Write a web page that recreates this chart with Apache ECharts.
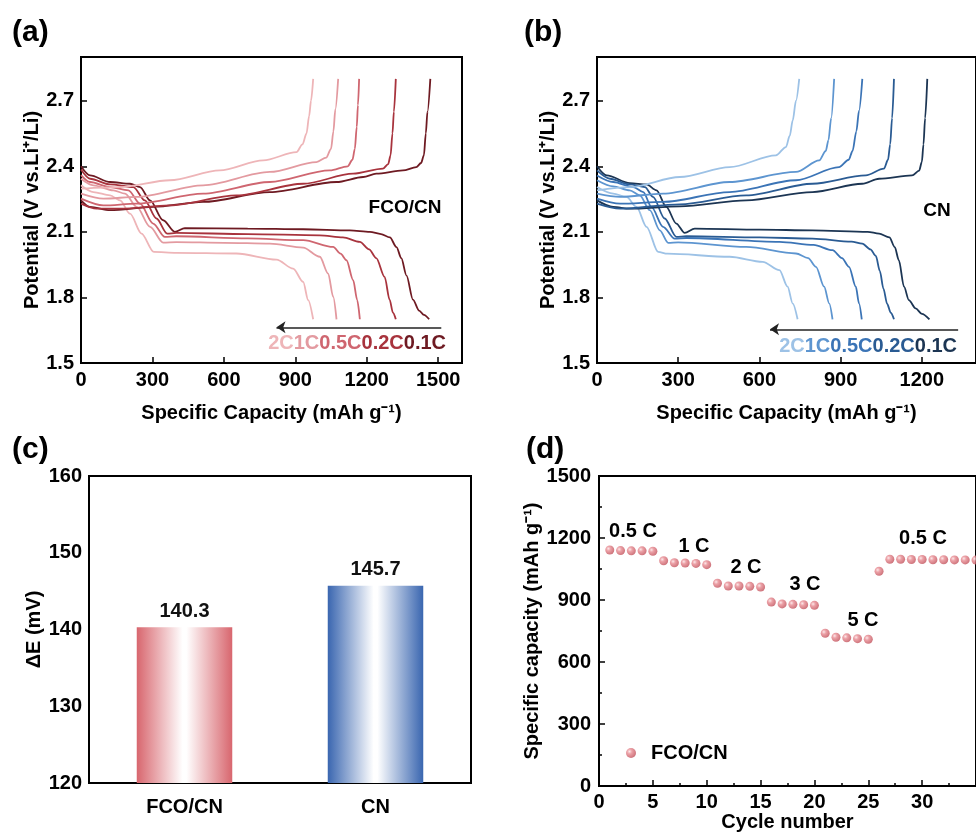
<!DOCTYPE html>
<html>
<head>
<meta charset="utf-8">
<script src="https://cdn.jsdelivr.net/npm/echarts@6/dist/echarts.min.js"></script>
<style>
  html, body { margin: 0; padding: 0; background: #fff; }
  #chart { width: 976px; height: 834px; }
</style>
</head>
<body>
<div id="chart"></div>
<script>
const FONT = '"Liberation Sans", Arial, sans-serif';

// (a) FCO/CN  [capacity mAh/g, potential V]
const fcoDis01 = [[0,2.40],[38,2.358],[122,2.328],[206,2.32],[248,2.305],[290,2.244],[345,2.153],[394,2.10],[436,2.117],[700,2.115],[933,2.112],[1129,2.107],[1213,2.10],[1260,2.09],[1297,2.075],[1325,2.03],[1345,1.98],[1367,1.90],[1394,1.79],[1420,1.74],[1440,1.72],[1462,1.70]];
const fcoDis02 = [[0,2.385],[38,2.343],[122,2.317],[220,2.305],[268,2.244],[317,2.161],[362,2.092],[400,2.095],[700,2.09],[1003,2.084],[1100,2.075],[1171,2.054],[1210,2.02],[1240,1.98],[1275,1.894],[1296,1.79],[1310,1.73],[1322,1.70]];
const fcoDis05 = [[0,2.36],[38,2.328],[122,2.305],[199,2.29],[248,2.229],[303,2.138],[352,2.077],[400,2.08],[700,2.07],[933,2.062],[1059,2.031],[1090,2.0],[1115,1.97],[1143,1.879],[1160,1.788],[1171,1.70]];
const fcoDis1 = [[0,2.343],[52,2.313],[136,2.29],[185,2.275],[234,2.214],[290,2.123],[345,2.051],[400,2.053],[600,2.05],[793,2.046],[933,2.028],[1003,1.986],[1038,1.909],[1059,1.803],[1073,1.70]];
const fcoDis2 = [[0,2.313],[52,2.282],[122,2.267],[164,2.244],[206,2.183],[254,2.092],[306,2.008],[400,2.004],[653,2.001],[821,1.973],[891,1.932],[933,1.871],[954,1.788],[975,1.70]];
const fcoChg01 = [[0,2.244],[38,2.214],[122,2.199],[303,2.214],[513,2.237],[793,2.282],[1073,2.328],[1185,2.351],[1240,2.366],[1352,2.381],[1408,2.396],[1428,2.415],[1440,2.45],[1448,2.55],[1455,2.65],[1467,2.80]];
const fcoChg02 = [[0,2.229],[66,2.206],[164,2.206],[373,2.221],[653,2.267],[933,2.32],[1143,2.366],[1268,2.389],[1290,2.41],[1300,2.45],[1308,2.55],[1314,2.65],[1322,2.80]];
const fcoChg05 = [[0,2.252],[94,2.221],[234,2.229],[513,2.275],[793,2.328],[1045,2.381],[1120,2.40],[1140,2.43],[1150,2.48],[1158,2.58],[1163,2.68],[1168,2.80]];
const fcoChg1 = [[0,2.275],[94,2.252],[234,2.26],[513,2.313],[793,2.374],[989,2.419],[1030,2.44],[1050,2.48],[1060,2.56],[1068,2.66],[1080,2.80]];
const fcoChg2 = [[0,2.298],[164,2.305],[373,2.336],[583,2.381],[765,2.427],[905,2.465],[930,2.50],[947,2.55],[958,2.63],[966,2.70],[975,2.80]];

// (b) CN
const cnDis01 = [[0,2.40],[36,2.358],[121,2.323],[183,2.317],[220,2.29],[256,2.214],[293,2.138],[324,2.095],[361,2.115],[600,2.11],[796,2.107],[1000,2.10],[1042,2.092],[1080,2.075],[1100,2.03],[1115,1.97],[1134,1.849],[1152,1.788],[1177,1.75],[1200,1.725],[1228,1.70]];
const cnDis02 = [[0,2.381],[48,2.343],[121,2.317],[177,2.305],[207,2.26],[250,2.161],[293,2.077],[330,2.08],[600,2.075],[796,2.069],[940,2.055],[980,2.046],[1010,2.02],[1030,1.99],[1045,1.92],[1058,1.84],[1072,1.77],[1085,1.73],[1097,1.70]];
const cnDis05 = [[0,2.358],[60,2.328],[134,2.305],[171,2.282],[201,2.214],[244,2.123],[287,2.069],[330,2.072],[674,2.054],[800,2.04],[870,2.016],[905,1.98],[931,1.94],[956,1.849],[968,1.772],[978,1.70]];
const cnDis1 = [[0,2.336],[60,2.308],[121,2.29],[158,2.267],[195,2.199],[232,2.107],[263,2.05],[300,2.052],[551,2.031],[735,2.001],[780,1.98],[809,1.94],[839,1.849],[858,1.772],[870,1.70]];
const cnDis2 = [[0,2.305],[60,2.275],[109,2.26],[146,2.214],[183,2.123],[226,2.008],[260,2.0],[490,1.986],[612,1.963],[674,1.925],[704,1.849],[723,1.772],[741,1.70]];
const cnChg01 = [[0,2.244],[60,2.214],[121,2.206],[306,2.217],[551,2.244],[796,2.282],[980,2.32],[1042,2.343],[1164,2.358],[1190,2.38],[1200,2.42],[1206,2.50],[1212,2.62],[1220,2.80]];
const cnChg02 = [[0,2.229],[85,2.206],[306,2.226],[551,2.267],[796,2.32],[993,2.358],[1060,2.389],[1075,2.43],[1083,2.50],[1090,2.62],[1097,2.80]];
const cnChg05 = [[0,2.252],[85,2.229],[244,2.237],[490,2.282],[735,2.336],[894,2.396],[930,2.43],[944,2.47],[958,2.56],[968,2.655],[980,2.80]];
const cnChg1 = [[0,2.275],[85,2.26],[244,2.275],[490,2.328],[735,2.374],[821,2.427],[845,2.47],[855,2.52],[865,2.62],[876,2.80]];
const cnChg2 = [[0,2.29],[121,2.305],[306,2.351],[490,2.396],[661,2.45],[698,2.488],[712,2.54],[723,2.61],[735,2.70],[747,2.80]];

// (c) polarization
const samples = ['FCO/CN', 'CN'];
const deltaE = [140.3, 145.7];

// (d) rate performance
const cycles = [1,2,3,4,5,6,7,8,9,10,11,12,13,14,15,16,17,18,19,20,21,22,23,24,25,26,27,28,29,30,31,32,33,34,35];
const rateCap = [1142,1139,1138,1138,1136,1090,1080,1079,1077,1071,981,968,968,966,963,890,881,879,877,874,739,720,717,713,710,1039,1097,1097,1096,1096,1095,1095,1094,1094,1093];

// colours, 0.1C -> 2C
const reds = ['#6e1a22', '#a8333d', '#cf6670', '#e39aa0', '#eeb5b8'];
const blues = ['#1c3553', '#2a5b93', '#3b74b6', '#5d95d0', '#9dc2e6'];

const chart = echarts.init(document.getElementById('chart'));

const line = (data, color, idx) => ({
  type: 'line',
  xAxisIndex: idx,
  yAxisIndex: idx,
  data: data,
  symbol: 'none',
  smooth: 0.3,
  smoothMonotone: 'x',
  silent: true,
  lineStyle: { color: color, width: 1.8 },
  itemStyle: { color: color },
});

// arrow under the curves
const arrow = (from, to) => ({
  silent: true,
  symbol: ['none', 'arrow'],
  symbolSize: 9,
  label: { show: false },
  lineStyle: { color: '#222', width: 1.5, type: 'solid' },
  data: [[{ coord: from }, { coord: to }]],
});

const tickLabel = { color: '#000', fontWeight: 'bold', fontSize: 20, fontFamily: FONT, formatter: (v) => String(v) };
const nameStyle = { color: '#000', fontWeight: 'bold', fontSize: 20, fontFamily: FONT };
const axLine = { show: true, lineStyle: { color: '#000', width: 2 } };
const axTick = { show: true, inside: true, length: 6, lineStyle: { color: '#000', width: 1.5 } };
const minor = { show: true, splitNumber: 2, length: 3, lineStyle: { color: '#000', width: 1.5 } };

const valueAxis = (idx, min, max, interval, extra) => Object.assign({
  type: 'value',
  gridIndex: idx,
  min: min,
  max: max,
  interval: interval,
  splitLine: { show: false },
  axisLine: axLine,
  axisTick: axTick,
  axisLabel: Object.assign({}, tickLabel, { showMaxLabel: false, margin: 7 }),
  nameLocation: 'middle',
  nameTextStyle: nameStyle,
}, extra);

const voltLabel = Object.assign({}, tickLabel, { showMaxLabel: false, margin: 7, formatter: (v) => v.toFixed(1) });

const fcoSeries = [];
[fcoDis01, fcoDis02, fcoDis05, fcoDis1, fcoDis2].forEach((d, i) => fcoSeries.push(line(d, reds[i], 0)));
[fcoChg01, fcoChg02, fcoChg05, fcoChg1, fcoChg2].forEach((d, i) => fcoSeries.push(line(d, reds[i], 0)));
fcoSeries[0].markLine = arrow([1513, 1.663], [821, 1.663]);

const cnSeries = [];
[cnDis01, cnDis02, cnDis05, cnDis1, cnDis2].forEach((d, i) => cnSeries.push(line(d, blues[i], 1)));
[cnChg01, cnChg02, cnChg05, cnChg1, cnChg2].forEach((d, i) => cnSeries.push(line(d, blues[i], 1)));
cnSeries[0].markLine = arrow([1334, 1.654], [639, 1.654]);

const barGrad = (c) => new echarts.graphic.LinearGradient(0, 0, 1, 0, [
  { offset: 0, color: c },
  { offset: 0.48, color: '#ffffff' },
  { offset: 0.52, color: '#ffffff' },
  { offset: 1, color: c },
]);

const sphere = new echarts.graphic.RadialGradient(0.35, 0.35, 0.7, [
  { offset: 0, color: '#fbe2e4' },
  { offset: 0.35, color: '#e78a91' },
  { offset: 1, color: '#c04e58' },
]);

const txt = (text, x, y, size, align, extra) => ({
  type: 'text',
  x: x,
  y: y,
  silent: true,
  style: Object.assign({
    text: text,
    fill: '#000',
    fontSize: size,
    fontWeight: 'bold',
    fontFamily: FONT,
    align: align || 'center',
    verticalAlign: 'middle',
  }, extra || {}),
});

const rich = (cols) => {
  const r = {};
  ['a', 'b', 'c', 'd', 'e'].forEach((k, i) => {
    r[k] = { fill: cols[4 - i], fontSize: 20, fontWeight: 'bold', fontFamily: FONT };
  });
  return r;
};
const rateText = '{a|2C}{b|1C}{c|0.5C}{d|0.2C}{e|0.1C}';

const option = {
  animation: false,
  backgroundColor: '#fff',
  grid: [
    { left: 81, top: 57, width: 381, height: 306, show: true, borderColor: '#000', borderWidth: 2 },
    { left: 597, top: 57, width: 382, height: 306, show: true, borderColor: '#000', borderWidth: 2 },
    { left: 89, top: 476, width: 382, height: 307, show: true, borderColor: '#000', borderWidth: 2 },
    { left: 599, top: 476, width: 397, height: 310, show: true, borderColor: '#000', borderWidth: 2 },
  ],
  xAxis: [
    valueAxis(0, 0, 1600, 300, { name: 'Specific Capacity (mAh g⁻¹)', nameGap: 40 }),
    valueAxis(1, 0, 1400, 300, { name: 'Specific Capacity (mAh g⁻¹)', nameGap: 40 }),
    {
      type: 'category',
      gridIndex: 2,
      data: samples,
      axisLine: axLine,
      axisTick: { show: false },
      axisLabel: { color: '#000', fontWeight: 'bold', fontSize: 20, fontFamily: FONT, margin: 14, interval: 0 },
    },
    valueAxis(3, 0, 35, 5, {
      name: 'Cycle number', nameGap: 26,
      minorTick: minor,
      axisLabel: Object.assign({}, tickLabel, { showMaxLabel: false, margin: 6 }),
    }),
  ],
  yAxis: [
    valueAxis(0, 1.5, 2.9, 0.3, { name: 'Potential (V vs.Li⁺/Li)', nameGap: 39, axisLabel: voltLabel }),
    valueAxis(1, 1.5, 2.9, 0.3, { name: 'Potential (V vs.Li⁺/Li)', nameGap: 37, axisLabel: voltLabel }),
    valueAxis(2, 120, 160, 10, {
      name: 'ΔE (mV)', nameGap: 41,
      axisTick: { show: false },
      axisLabel: Object.assign({}, tickLabel, { margin: 7 }),
    }),
    valueAxis(3, 0, 1500, 300, {
      name: 'Specific capacity (mAh g⁻¹)', nameGap: 57,
      minorTick: minor,
      axisLabel: Object.assign({}, tickLabel, { margin: 8 }),
    }),
  ],
  legend: {
    data: ['FCO/CN'],
    left: 621,
    top: 738,
    icon: 'circle',
    itemWidth: 30,
    itemHeight: 10,
    textStyle: { color: '#000', fontWeight: 'bold', fontSize: 20, fontFamily: FONT },
  },
  series: [
    ...fcoSeries,
    ...cnSeries,
    {
      type: 'bar',
      xAxisIndex: 2,
      yAxisIndex: 2,
      barWidth: '50%',
      data: [
        { value: deltaE[0], itemStyle: { color: barGrad('#d8666e') } },
        { value: deltaE[1], itemStyle: { color: barGrad('#3a66b0') } },
      ],
      label: {
        show: true,
        position: 'top',
        distance: 6,
        color: '#111',
        fontWeight: 'bold',
        fontSize: 20,
        fontFamily: FONT,
        formatter: (p) => p.value.toFixed(1),
      },
    },
    {
      name: 'FCO/CN',
      type: 'scatter',
      xAxisIndex: 3,
      yAxisIndex: 3,
      symbol: 'circle',
      symbolSize: 9,
      data: cycles.map((c, i) => [c, rateCap[i]]),
      itemStyle: { color: sphere },
    },
  ],
  graphic: [
    txt('(a)', 12, 33, 30, 'left'),
    txt('(b)', 524, 33, 30, 'left'),
    txt('(c)', 12, 450, 30, 'left'),
    txt('(d)', 526, 450, 30, 'left'),
    txt('FCO/CN', 405, 208, 19),
    txt('CN', 937, 211, 19),
    txt(rateText, 446, 343, 20, 'right', { rich: rich(reds) }),
    txt(rateText, 957, 346, 20, 'right', { rich: rich(blues) }),
    txt('0.5 C', 633, 531, 20),
    txt('1 C', 694, 546, 20),
    txt('2 C', 746, 567, 20),
    txt('3 C', 805, 584, 20),
    txt('5 C', 863, 620, 20),
    txt('0.5 C', 923, 538, 20),
  ],
};

chart.setOption(option);
</script>
</body>
</html>
